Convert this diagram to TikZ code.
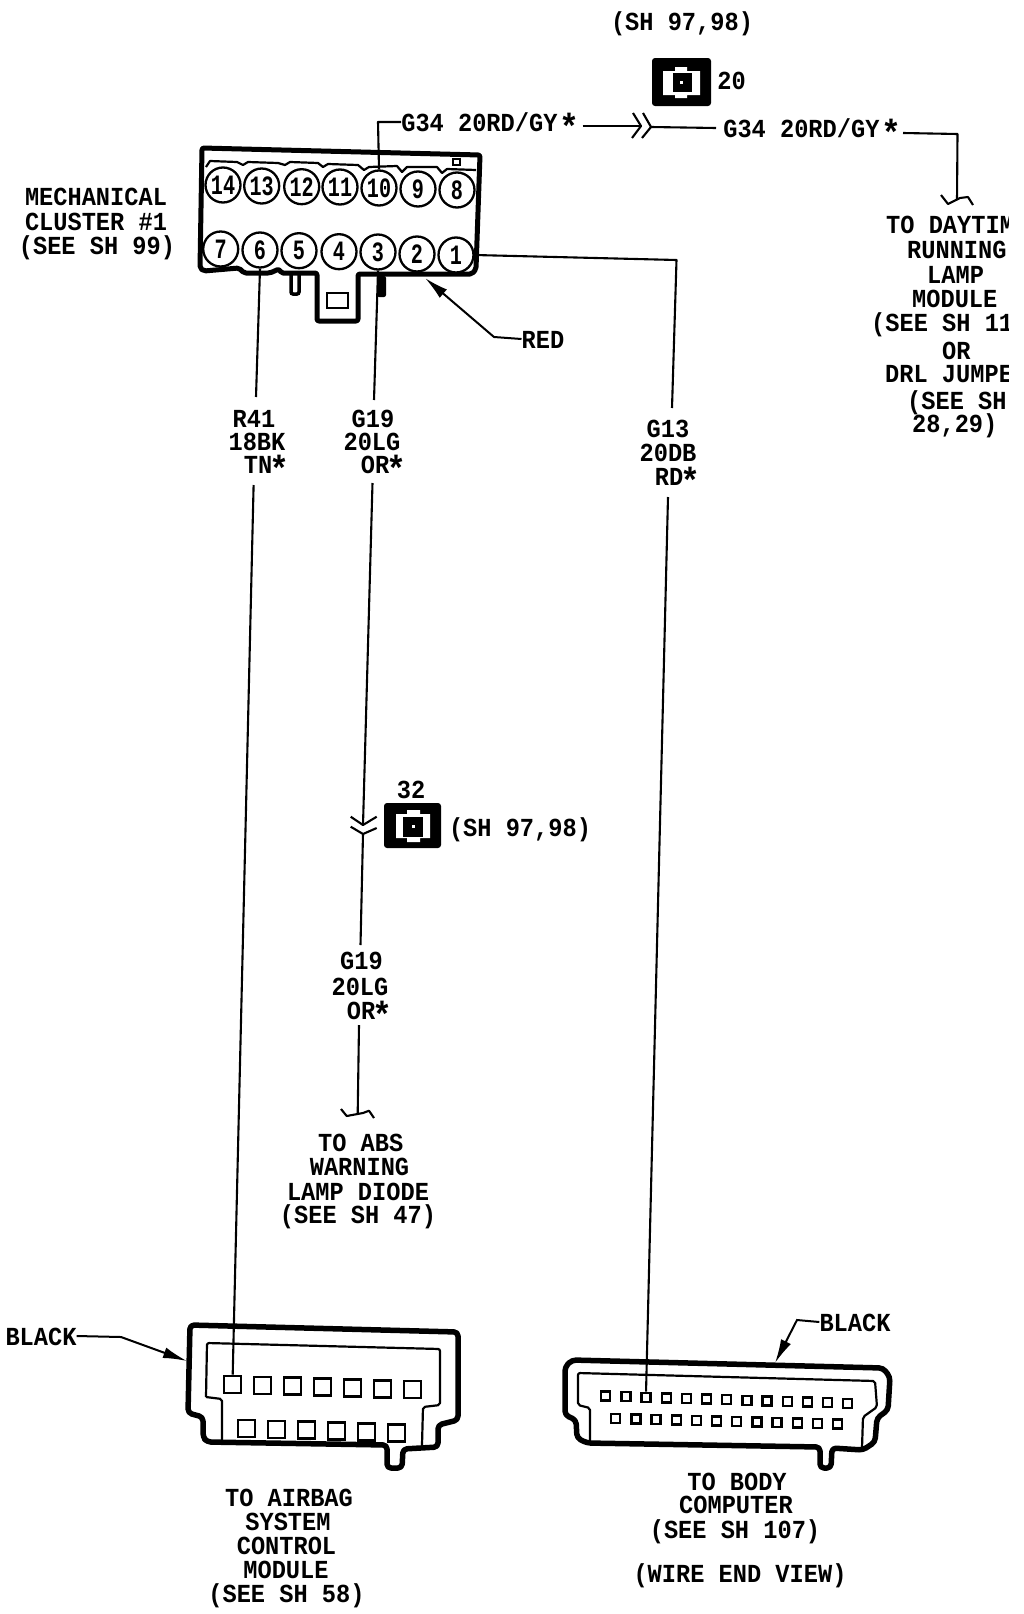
\documentclass[tikz,border=0pt]{standalone}
\usepackage{fontspec}
\usepackage{graphicx}
\usetikzlibrary{arrows.meta}
\newfontfamily\labfont[FakeStretch=0.91]{Liberation Mono}
\newfontfamily\pinfont[FakeStretch=0.72]{Liberation Mono}
\newcommand\wstar{\makebox[14pt][c]{\raisebox{-8pt}{\scalebox{1.4}{*}}}}
\newcommand\lbl[4]{\node[lab] (#1) at (#2,#3) {#4};}
\tikzset{
  lab/.style={font=\labfont\bfseries\fontsize{26}{26}\selectfont,inner sep=0pt,anchor=base,text height=18pt,text depth=0pt},
  wire/.style={line width=2.1pt,line join=round},
  thick shell/.style={line width=5pt,line join=round,rounded corners=2pt},
  thin shell/.style={line width=2.2pt,line join=round},
  pincirc/.style={circle,draw,line width=2.3pt,minimum size=35pt,inner sep=0pt,font=\pinfont\bfseries\fontsize{28}{28}\selectfont},
  sqa/.style={draw,line width=2.4pt,minimum size=17pt,inner sep=0pt},
  sqb/.style={draw,line width=2.4pt,minimum size=9pt,inner sep=0pt},
  lead/.style={line width=2pt,-{Latex[length=24pt,width=11pt]}},
  shell/.style={line width=5.5pt,line join=round}
}
\begin{document}
\begin{tikzpicture}[x=1pt,y=-1pt]
\useasboundingbox (0,0) rectangle (1024,1614);
% ---------- mechanical cluster connector
\draw[thick shell] (202,148) -- (480,155) -- (476,269) -- (472,274) -- (358,274) -- (358,321) -- (317,321) -- (317,273) -- (281,273) -- (279,269) -- (270,273) -- (244,273) -- (239,268) -- (204,271) -- (200,268) -- cycle;
\draw[thin shell] (206,167) -- (210,161) -- (237,162) -- (243,165) -- (248,162) -- (278,163) -- (285,165) -- (290,162) -- (318,163) -- (323,167) -- (328,164) -- (358,165) -- (364,170) -- (369,167) -- (397,166) -- (402,172) -- (407,167) -- (437,167) -- (442,173) -- (447,169) -- (476,170);
\draw[line width=1.8pt] (453,159) rectangle (460,165);
\draw[line width=2.2pt] (327,293) rectangle (348,308);
\draw[line width=3.5pt,rounded corners=2pt] (291,274) -- (291,294) -- (299,294) -- (299,274);
\fill[rounded corners=2pt] (377,276) -- (377,297) -- (386,297) -- (386,276) -- cycle;
\foreach \n/\x/\y in {14/223/185,13/261.7/186,12/301.7/186.7,11/340/187,10/379/188,9/418/189,8/457/190,7/220.7/249,6/260/250,5/299/250.7,4/339/251.7,3/378/252,2/417/254,1/456/255}
  \node[pincirc,fill=white] (p\n) at (\x,\y) {\n};
% ---------- texts of the cluster
\lbl{m1}{96}{205}{MECHANICAL}
\lbl{m2}{96}{230}{CLUSTER \#1}
\lbl{m3}{97}{254}{(SEE SH 99)}
\lbl{red}{543}{348}{RED}
\coordinate (redbend) at (494,337);
\coordinate (redtip) at (425,278);
\draw[lead] (red.west) -- (redbend) -- (redtip);
% ---------- top: G34
\lbl{sh1}{682}{30}{(SH 97,98)}
\node[fill=black,rounded corners=3pt,minimum width=59pt,minimum height=48pt,inner sep=0pt] (b20) at (681.5,82) {};
\fill[white] (663,71) rectangle (700,95) (675,67) rectangle (687,98);
\fill[black] (673,73) rectangle (692,92);
\fill[white] (680,81) rectangle (683,84);
\lbl{n20}{731.5}{89}{20}
\lbl{g34a}{489}{131}{G34 20RD/GY \hspace{-9pt}\wstar}
\lbl{g34b}{811}{137}{G34 20RD/GY \hspace{-9pt}\wstar}
\coordinate (g34abend) at (378,122);
\coordinate (g34aend) at (582.5,126);
\coordinate (cva) at (641,126);
\coordinate (cvb) at (651,127);
\coordinate (g34bstart) at (716,128);
\coordinate (g34cstart) at (903,133);
\coordinate (g34ccorner) at (957.5,134);
\coordinate (g34cend) at (957,200);
\draw[wire] (p10.north) -- (g34abend) -- (g34a.west);
\draw[wire] (g34aend) -- (cva);
\draw[wire] (cvb) -- (g34bstart);
\draw[wire] (633,113) -- (cva) -- (632,138);
\draw[wire] (643,113) -- (cvb) -- (642,138);
\draw[wire] (g34cstart) -- (g34ccorner) -- (g34cend);
\draw[wire] (941,195) -- (948,204) -- (960,198) -- (968,197) -- (973,205);
\begin{scope}
\clip (840,190) rectangle (1008,450);
\node[lab,anchor=base west] (d1) at (886,233) {TO DAYTIM};
\node[lab,anchor=base west] (d2) at (907,258) {RUNNING};
\node[lab,anchor=base west] (d3) at (927,283) {LAMP};
\node[lab,anchor=base west] (d4) at (912,307) {MODULE};
\node[lab,anchor=base west] (d5) at (871,331) {(SEE SH 11};
\node[lab,anchor=base west] (d6) at (942,359) {OR};
\node[lab,anchor=base west] (d7) at (885,382) {DRL JUMPE};
\node[lab,anchor=base west] (d8) at (907,409) {(SEE SH};
\node[lab,anchor=base west] (d9) at (912,432) {28,29)};
\end{scope}
% ---------- R41
\lbl{r1}{254}{427}{R41}
\lbl{r2}{257}{450}{18BK}
\lbl{r3}{265}{473}{TN\wstar}
\coordinate (r41a) at (256,397);
\coordinate (r41b) at (253.6,485);
% ---------- G19
\lbl{ga1}{373}{427}{G19}
\lbl{ga2}{372}{450}{20LG}
\lbl{ga3}{382}{473}{OR\wstar}
\coordinate (g19a) at (374,400);
\coordinate (g19b) at (372.5,483);
\coordinate (cvc) at (363,825);
\coordinate (cvd) at (363,834);
\coordinate (g19c) at (360.5,945);
\lbl{gb1}{361.5}{969}{G19}
\lbl{gb2}{360}{995}{20LG}
\lbl{gb3}{368}{1019}{OR\wstar}
\coordinate (g19d) at (359,1025);
\coordinate (g19e) at (357.7,1113);
\draw[wire] (p6.south) -- (r41a);
\draw[wire] (p3.south) -- (g19a);
\draw[wire] (g19b) -- (cvc);
\draw[wire] (cvd) -- (g19c);
\draw[wire] (350.7,816.7) -- (cvc) -- (376.7,816.7);
\draw[wire] (350.7,826.7) -- (cvd) -- (376.7,828);
\draw[wire] (g19d) -- (g19e);
\draw[wire] (341,1109) -- (346.7,1116) -- (363,1113) -- (369,1110.7) -- (374,1118);
\lbl{n32}{411}{798}{32}
\node[fill=black,rounded corners=3pt,minimum width=57pt,minimum height=45pt,inner sep=0pt] (b32) at (412.5,825.5) {};
\fill[white] (396,814) rectangle (430,838) (407,810) rectangle (420,842);
\fill[black] (403,817) rectangle (423,837);
\fill[white] (412,825) rectangle (415,828);
\lbl{sh2}{520}{836}{(SH 97,98)}
\lbl{a1}{360.7}{1151}{TO ABS}
\lbl{a2}{359.5}{1175}{WARNING}
\lbl{a3}{358}{1200}{LAMP DIODE}
\lbl{a4}{358}{1223}{(SEE SH 47)}
% ---------- G13
\lbl{gc1}{668}{437}{G13}
\lbl{gc2}{668}{461}{20DB}
\lbl{gc3}{676}{485}{RD\wstar}
\coordinate (g13a) at (676.5,260);
\coordinate (g13b) at (672,408);
\coordinate (g13c) at (668,497);
\draw[wire] (p1.east) -- (g13a) -- (g13b);
% ---------- airbag connector
\draw[shell,rounded corners=4pt] (190,1325) -- (458,1332) -- (458,1420) -- (438,1425) -- (438,1447) -- (403,1449) -- (402,1468) -- (387,1468) -- (387,1445) -- (207,1442) -- (203,1437) -- (203,1417) -- (188,1413) -- cycle;
\draw[thin shell,rounded corners=2pt] (206,1397) -- (207,1343) -- (440,1349) -- (440,1405) -- (423,1407) -- (422,1445);
\draw[thin shell,rounded corners=2pt] (206,1397) -- (222,1399) -- (222,1440);
\foreach \i [evaluate=\i as \x using 232.7+30*\i, evaluate=\i as \y using 1384.3+0.9*\i] in {0,...,6}
  \node[sqa] (ta\i) at (\x,\y) {};
\foreach \i [evaluate=\i as \x using 246.7+30*\i, evaluate=\i as \y using 1428.3+0.9*\i] in {0,...,5}
  \node[sqa] (ba\i) at (\x,\y) {};
\draw[wire] (r41b) -- (ta0.north);
\lbl{bk1}{41}{1345}{BLACK}
\coordinate (bk1bend) at (121,1337);
\coordinate (bk1tip) at (187,1361);
\draw[lead] (bk1.east) -- (bk1bend) -- (bk1tip);
\lbl{t1}{289}{1506}{TO AIRBAG}
\lbl{t2}{288}{1530}{SYSTEM}
\lbl{t3}{286.5}{1554}{CONTROL}
\lbl{t4}{286}{1578}{MODULE}
\lbl{t5}{286.5}{1602}{(SEE SH 58)}
% ---------- body computer connector
\draw[shell,rounded corners=4pt] (565,1367) -- (572,1360) -- (883,1368) -- (890,1377) -- (888,1410) -- (877,1418) -- (875,1442) -- (863,1450) -- (832,1448) -- (831,1468) -- (820,1468) -- (820,1447) -- (587,1443) -- (577,1438) -- (576,1420) -- (565,1415) -- cycle;
\draw[thin shell,rounded corners=2pt] (590,1442) -- (590,1408) -- (578,1405) -- (578,1373) -- (875,1381) -- (877,1407) -- (863,1417) -- (862,1448);
\foreach \i [evaluate=\i as \x using 605.7+20.17*\i, evaluate=\i as \y using 1396+0.61*\i] in {0,...,12}
  \node[sqb] (tb\i) at (\x,\y) {};
\foreach \i [evaluate=\i as \x using 615.7+20.18*\i, evaluate=\i as \y using 1418.7+0.47*\i] in {0,...,11}
  \node[sqb] (bb\i) at (\x,\y) {};
\draw[wire] (g13c) -- (tb2.north);
\lbl{bk2}{855}{1331}{BLACK}
\coordinate (bk2bend) at (797,1320);
\coordinate (bk2tip) at (775,1363);
\draw[lead] (bk2.west) -- (bk2bend) -- (bk2tip);
\lbl{u1}{737}{1490}{TO BODY}
\lbl{u2}{736}{1513}{COMPUTER}
\lbl{u3}{735}{1538}{(SEE SH 107)}
\lbl{u4}{740}{1582}{(WIRE END VIEW)}
\end{tikzpicture}
\end{document}
